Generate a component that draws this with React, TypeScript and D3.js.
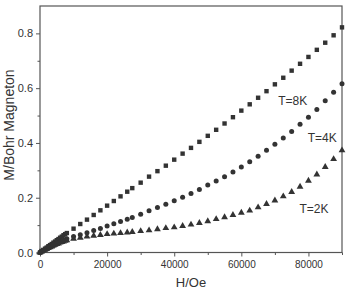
import React, { useEffect, useRef } from 'react';
import * as d3 from 'd3';

// Applied field H (Oe)
const fields = [
  0, 500, 1000, 1500, 2000, 2500, 3000, 3500, 4000, 4500, 5000, 5500, 6000, 6500, 7000, 7500, 8000,
  10000, 12000, 14000, 16000, 18000, 20000, 22000, 24000, 26000, 27500,
  30000, 32500, 35000, 37500, 40000, 42500, 45000, 47500, 50000, 52500, 55000, 57500, 60000,
  62500, 65000, 67500, 70000, 72500, 75000, 77500, 80000, 82500, 85000, 87500, 90000,
];

// M / Bohr magneton at each field
const m8K = [
  0, 0.005, 0.009, 0.014, 0.018, 0.023, 0.027, 0.031, 0.036, 0.040, 0.045, 0.049, 0.054, 0.058, 0.063, 0.067, 0.071,
  0.087, 0.104, 0.120, 0.137, 0.154, 0.171, 0.188, 0.205, 0.222, 0.235,
  0.255, 0.277, 0.297, 0.317, 0.339, 0.361, 0.382, 0.404, 0.426, 0.448, 0.471, 0.494, 0.518,
  0.541, 0.565, 0.589, 0.614, 0.638, 0.664, 0.689, 0.714, 0.740, 0.766, 0.793, 0.822,
];
const m4K = [
  0, 0.0035, 0.007, 0.0105, 0.014, 0.017, 0.020, 0.023, 0.026, 0.029, 0.032, 0.035, 0.038, 0.041, 0.044, 0.047, 0.050,
  0.058, 0.065, 0.072, 0.080, 0.088, 0.097, 0.105, 0.113, 0.121, 0.128,
  0.140, 0.152, 0.164, 0.176, 0.189, 0.202, 0.215, 0.230, 0.246, 0.261, 0.277, 0.294, 0.312,
  0.331, 0.351, 0.373, 0.395, 0.418, 0.442, 0.468, 0.494, 0.522, 0.554, 0.585, 0.616,
];
const m2K = [
  0, 0.0035, 0.007, 0.010, 0.013, 0.016, 0.019, 0.022, 0.025, 0.028, 0.031, 0.033, 0.036, 0.038, 0.040, 0.043, 0.045,
  0.050, 0.054, 0.058, 0.061, 0.064, 0.067, 0.069, 0.071, 0.073, 0.075,
  0.078, 0.081, 0.085, 0.089, 0.092, 0.097, 0.102, 0.108, 0.114, 0.122, 0.129, 0.137, 0.145,
  0.153, 0.165, 0.177, 0.190, 0.205, 0.221, 0.240, 0.262, 0.285, 0.312, 0.341, 0.373,
];

const xTicks = [0, 20000, 40000, 60000, 80000];
const xMinor = [10000, 30000, 50000, 70000, 90000];
const yTicks = [0, 0.2, 0.4, 0.6, 0.8];
const yMinor = [0.1, 0.3, 0.5, 0.7];

const seriesLabels = [
  { text: 'T=8K', h: 71000, m: 0.54 },
  { text: 'T=4K', h: 79800, m: 0.405 },
  { text: 'T=2K', h: 77300, m: 0.146 },
];

export default function App() {
  const svgRef = useRef<SVGSVGElement>(null);

  useEffect(() => {
    if (!svgRef.current) return;
    d3.select(svgRef.current).selectAll('*').remove();

    const W = 346;
    const H = 290;
    const margin = { top: 6, right: 4, bottom: 37.5, left: 40 };
    const width = W - margin.left - margin.right;
    const height = H - margin.top - margin.bottom;

    const svg = d3.select(svgRef.current)
      .attr('width', W)
      .attr('height', H)
      .style('font-family', 'Arial, "Liberation Sans", sans-serif');

    const g = svg.append('g')
      .attr('transform', `translate(${margin.left},${margin.top})`);

    const x = d3.scaleLinear().domain([0, 90000]).range([0, width]);
    const y = d3.scaleLinear().domain([0, 0.9]).range([height, 0]);

    const axisColor = '#555';
    const textColor = '#333';

    // frame
    g.append('rect')
      .attr('width', width)
      .attr('height', height)
      .attr('fill', 'none')
      .attr('stroke', axisColor)
      .attr('stroke-width', 1.2);

    // x axis
    const xAxis = g.append('g')
      .attr('transform', `translate(0,${height})`)
      .call(d3.axisBottom(x).tickValues(xTicks).tickSize(4).tickPadding(4).tickFormat(d3.format('d')));
    g.append('g')
      .attr('transform', `translate(0,${height})`)
      .call(d3.axisBottom(x).tickValues(xMinor).tickSize(2.5).tickFormat(() => ''));

    // y axis
    const yAxis = g.append('g')
      .call(d3.axisLeft(y).tickValues(yTicks).tickSize(4).tickPadding(3).tickFormat(d3.format('.1f')));
    g.append('g')
      .call(d3.axisLeft(y).tickValues(yMinor).tickSize(2.5).tickFormat(() => ''));

    g.selectAll('.domain').remove();
    g.selectAll('.tick line').attr('stroke', axisColor);
    xAxis.selectAll('text').style('font-size', '10px').attr('fill', textColor);
    yAxis.selectAll('text').style('font-size', '11px').attr('fill', textColor);

    // axis titles
    svg.append('text')
      .attr('x', margin.left + width / 2)
      .attr('y', 287)
      .attr('text-anchor', 'middle')
      .style('font-size', '13px')
      .attr('fill', textColor)
      .text('H/Oe');

    svg.append('text')
      .attr('transform', 'rotate(-90)')
      .attr('x', -125)
      .attr('y', 14)
      .attr('text-anchor', 'middle')
      .style('font-size', '14px')
      .attr('fill', textColor)
      .text('M/Bohr Magneton');

    const markColor = '#333';

    // T=8K squares
    const s = 4.4;
    g.append('g').selectAll('rect')
      .data(fields)
      .enter()
      .append('rect')
      .attr('x', (d) => x(d) - s / 2)
      .attr('y', (_, i) => y(m8K[i]) - s / 2)
      .attr('width', s)
      .attr('height', s)
      .attr('fill', markColor);

    // T=4K circles
    g.append('g').selectAll('circle')
      .data(fields)
      .enter()
      .append('circle')
      .attr('cx', (d) => x(d))
      .attr('cy', (_, i) => y(m4K[i]))
      .attr('r', 2.5)
      .attr('fill', markColor);

    // T=2K triangles
    const tri = d3.symbol().type(d3.symbolTriangle).size(20);
    g.append('g').selectAll('path')
      .data(fields)
      .enter()
      .append('path')
      .attr('d', tri)
      .attr('transform', (d, i) => `translate(${x(d)},${y(m2K[i])})`)
      .attr('fill', markColor);

    // series labels
    g.selectAll('.series-label')
      .data(seriesLabels)
      .enter()
      .append('text')
      .attr('class', 'series-label')
      .attr('x', (d) => x(d.h))
      .attr('y', (d) => y(d.m))
      .style('font-size', '12px')
      .attr('fill', textColor)
      .text((d) => d.text);
  }, []);

  return (
    <svg ref={svgRef} style={{ position: 'absolute', left: 0, top: 0, background: '#fff' }} />
  );
}
